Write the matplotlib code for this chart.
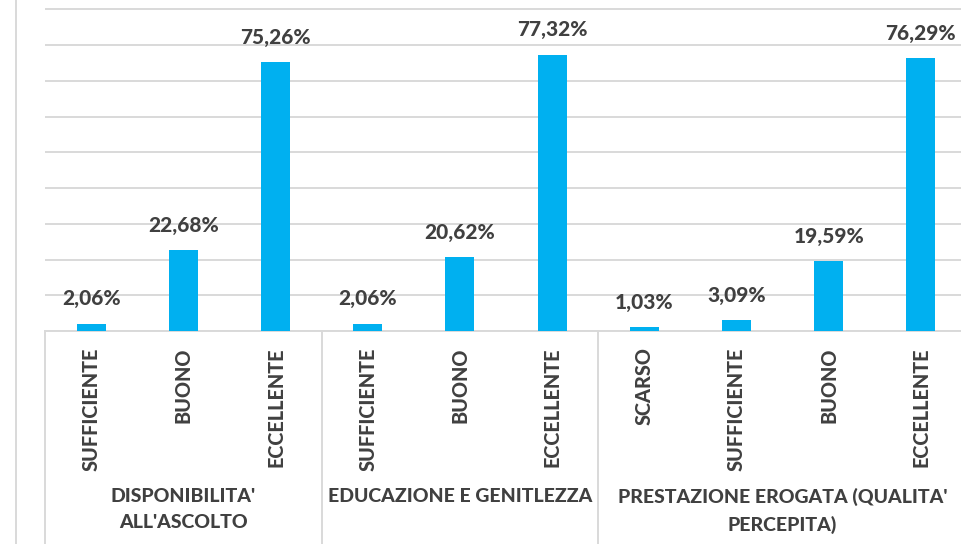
import numpy as np
import matplotlib.pyplot as plt
from matplotlib.lines import Line2D

categories = ["SUFFICIENTE", "BUONO", "ECCELLENTE",
              "SUFFICIENTE", "BUONO", "ECCELLENTE",
              "SCARSO", "SUFFICIENTE", "BUONO", "ECCELLENTE"]
values = [2.06, 22.68, 75.26, 2.06, 20.62, 77.32, 1.03, 3.09, 19.59, 76.29]
groups = ["DISPONIBILITA'\nALL'ASCOLTO", "EDUCAZIONE E GENITLEZZA",
          "PRESTAZIONE EROGATA (QUALITA'\nPERCEPITA)"]
group_sizes = [3, 3, 4]

plt.rcParams['font.family'] = ['Lato', 'DejaVu Sans']
txt = '#404040'
grid = '#D9D9D9'
blue = '#00B0F0'

fig = plt.figure(figsize=(9.61, 5.44), dpi=100)
W, H = 961, 544
ax = fig.add_axes([45 / W, 1 - 331 / H, (967 - 45) / W, 331 / H])

x = np.arange(len(values))
ax.bar(x, values, width=0.315, color=blue, zorder=3)
ax.set_xlim(-0.5, len(values) - 0.5)
ax.set_ylim(0, 92.6)
ax.set_yticks(np.arange(0, 100, 10))
ax.yaxis.grid(True, color=grid, linewidth=1.4, zorder=0)
ax.tick_params(left=False, labelleft=False, bottom=False, labelbottom=False)
for s in ['top', 'right', 'left']:
    ax.spines[s].set_visible(False)
ax.spines['bottom'].set_color(grid)
ax.spines['bottom'].set_linewidth(1.4)

for xi, v in zip(x, values):
    ax.annotate(f"{v:.2f}%".replace('.', ','), (xi, v), xytext=(0, 11),
                textcoords='offset points', ha='center', va='bottom',
                fontsize=15, fontweight='black', color=txt)

tr = ax.get_xaxis_transform()
for xi, c in zip(x, categories):
    ax.text(xi, -0.05, c, transform=tr, rotation=90, ha='center', va='top',
            fontsize=14.3, fontweight='black', color=txt)

start = 0
bounds = [-0.5]
for g, n in zip(groups, group_sizes):
    centre = start + (n - 1) / 2
    ax.text(centre, -0.475, g, transform=tr, ha='center', va='top',
            fontsize=14, fontweight='black', color=txt, linespacing=1.6)
    start += n
    bounds.append(start - 0.5)

for b in bounds[:-1]:
    ax.plot([b, b], [0, -1], transform=tr, color=grid, linewidth=1.4,
            clip_on=False)

fig.add_artist(Line2D([16 / W, 16 / W], [0, 1], color=grid, linewidth=1.4))

fig.savefig('out.png', dpi=100)
